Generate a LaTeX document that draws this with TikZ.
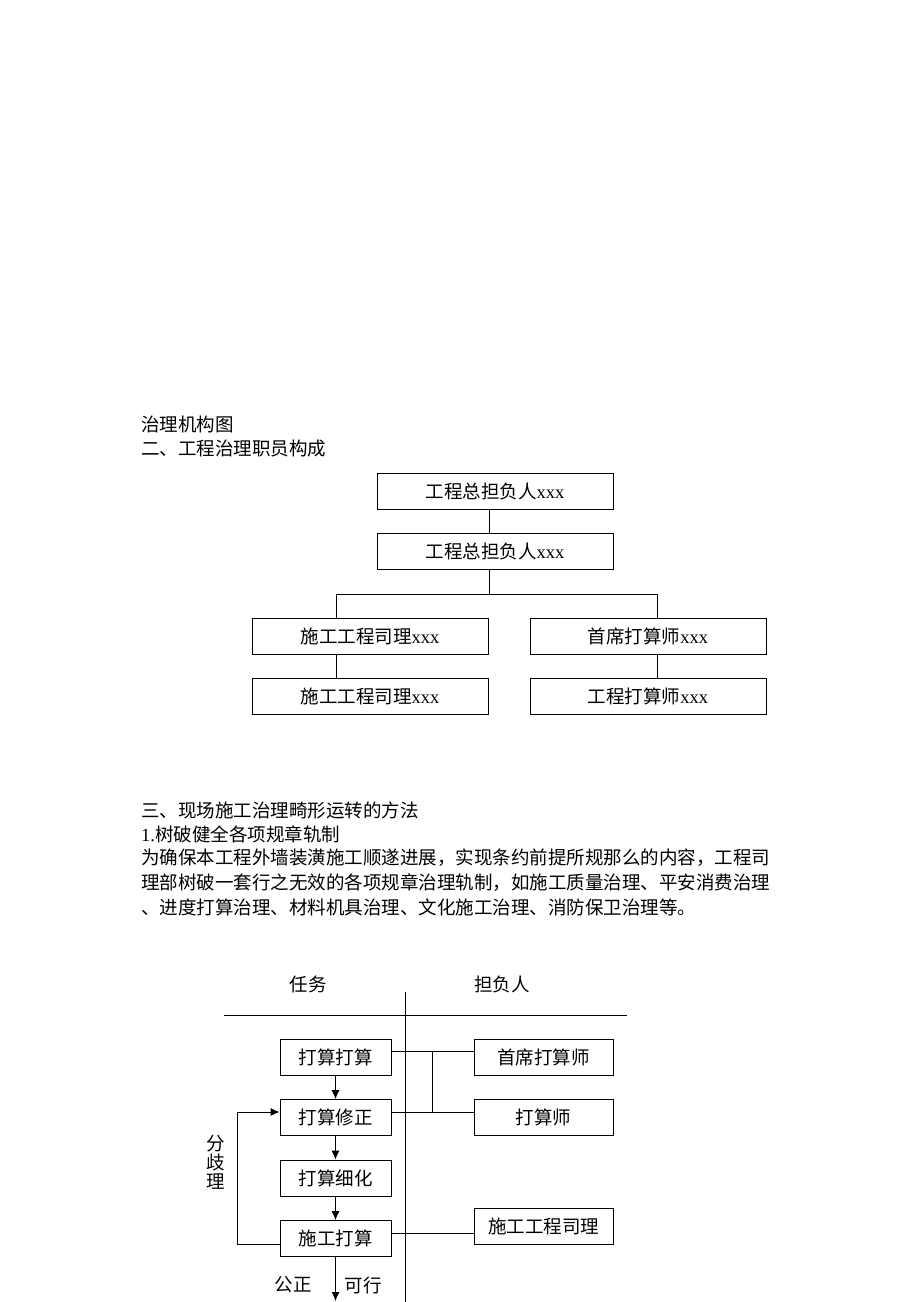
\documentclass[tikz,border=0pt]{standalone}
\usepackage{fontspec}
\setmainfont{Liberation Serif}
\newfontfamily\cjk{Noto Sans CJK SC}
\usetikzlibrary{arrows.meta}
\begin{document}
\begin{tikzpicture}[x=1pt,y=-1pt,
  font=\fontsize{18.5}{22}\selectfont,
  box/.style={draw, line width=0.9pt, inner sep=0pt, minimum height=36pt},
  wbox/.style={box, minimum width=236pt},
  sbox/.style={box, minimum width=111pt},
  rbox/.style={box, minimum width=139pt},
  txt/.style={anchor=west, inner sep=0pt},
  ln/.style={line width=0.9pt},
  arr/.style={line width=0.9pt, -{Latex[length=9pt,width=8pt]}}]
\useasboundingbox (0,0) rectangle (920,1302);

% headings
\node[txt] (h1) at (141,424) {\cjk 治理机构图};
\node[txt] (h2) at (141,449) {\cjk 二、工程治理职员构成};

% org chart
\node[wbox] (a) at (495,491) {{\cjk 工程总担负人}xxx};
\node[wbox] (b) at (495,551) {{\cjk 工程总担负人}xxx};
\node[wbox] (c) at (370,636) {{\cjk 施工工程司理}xxx};
\node[wbox] (d) at (648,636) {{\cjk 首席打算师}xxx};
\node[wbox] (e) at (370,696) {{\cjk 施工工程司理}xxx};
\node[wbox] (f) at (648,696) {{\cjk 工程打算师}xxx};

\draw[ln] ([xshift=-6pt]a.south) -- ([xshift=-6pt]b.north);
\draw[ln] ([xshift=-6pt]b.south) -- ++(0,25) coordinate (br);
\draw[ln] ([xshift=-34pt]c.north) |- (br) -| ([xshift=9pt]d.north);
\draw[ln] ([xshift=-34pt]c.south) -- ([xshift=-34pt]e.north);
\draw[ln] ([xshift=9pt]d.south) -- ([xshift=9pt]f.north);

% section text
\node[txt] (t1) at (141,810) {\cjk 三、现场施工治理畸形运转的方法};
\node[txt] (t2) at (141,834) {1.{\cjk 树破健全各项规章轨制}};
\node[txt] (t3) at (141,858) {\cjk 为确保本工程外墙装潢施工顺遂进展，实现条约前提所规那么的内容，工程司};
\node[txt] (t4) at (141,883) {\cjk 理部树破一套行之无效的各项规章治理轨制，如施工质量治理、平安消费治理};
\node[txt] (t5) at (141,907) {\cjk 、进度打算治理、材料机具治理、文化施工治理、消防保卫治理等。};

% flow chart
\node (rw) at (308,984) {\cjk 任务};
\node (dr) at (502,984) {\cjk 担负人};
\coordinate (hl) at (224,1015);
\coordinate (hr) at (627,1015);
\coordinate (vt) at (405,992);
\coordinate (vb) at (405,1302);
\draw[ln] (hl) -- (hr);
\draw[ln] (vt) -- (vb);

\node[sbox] (p1) at (335.5,1057) {\cjk 打算打算};
\node[sbox] (p2) at (335.5,1117.5) {\cjk 打算修正};
\node[sbox] (p3) at (335.5,1178) {\cjk 打算细化};
\node[sbox] (p4) at (335.5,1238.5) {\cjk 施工打算};
\node[rbox] (q1) at (543.5,1057) {\cjk 首席打算师};
\node[rbox] (q2) at (543.5,1117.5) {\cjk 打算师};
\node[rbox] (q3) at (543.5,1226) {\cjk 施工工程司理};

\draw[arr] (p1) -- (p2);
\draw[arr] (p2) -- (p3);
\draw[arr] (p3) -- (p4);
\coordinate (out) at (335.5,1301);
\draw[arr] (p4) -- (out);

\draw[ln] ([yshift=6pt]p1.east) -- ([yshift=6pt]q1.west);
\draw[ln] ([yshift=5.5pt]p2.east) -- ([yshift=5.5pt]q2.west);
\draw[ln] ([yshift=6pt]p1.east -| 432,0) -- ([yshift=5.5pt]p2.east -| 432,0);
\draw[ln] ([yshift=5.5pt]p4.east) -- ([yshift=5.5pt]p4.east -| q3.west);

\draw[arr] ([yshift=-6pt]p4.west) -| ++(-42,0) |- ([yshift=5.5pt]p2.west);

\node[align=center, inner sep=0pt] (fq) at (216,1162) {\cjk 分\\[-3pt]\cjk 歧\\[-3pt]\cjk 理};
\node (gz) at (293,1285) {\cjk 公正};
\node (kx) at (363,1285) {\cjk 可行};
\end{tikzpicture}
\end{document}
